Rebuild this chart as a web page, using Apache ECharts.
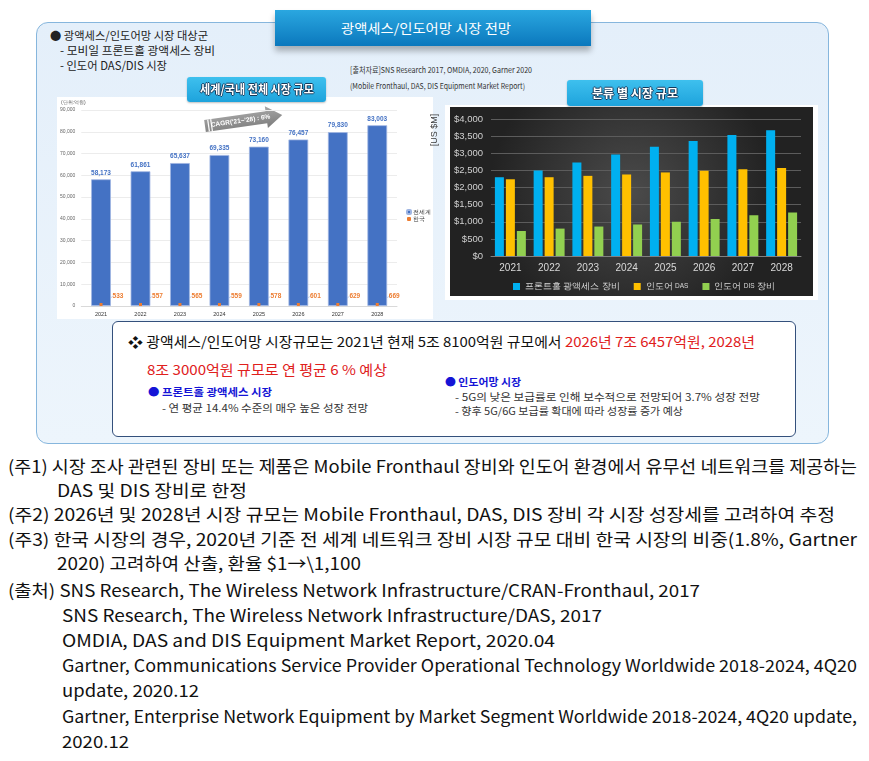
<!DOCTYPE html>
<html>
<head>
<meta charset="utf-8">
<script src="https://cdn.jsdelivr.net/npm/echarts@6/dist/echarts.min.js"></script>
<style>
	body { margin: 0; width: 869px; height: 761px; background: #fff; position: relative; overflow: hidden;
		font-family: "Noto Sans CJK KR", sans-serif; }
	.abs { position: absolute; }
	.t { position: absolute; white-space: nowrap; line-height: 1.2; transform-origin: 0 50%; }
	.fn { font-family: "Liberation Sans Narrow", "Noto Sans CJK KR", sans-serif; font-size: 17px; color: #111; }
	.red { color: #e0201c; }
	.banner { position: absolute; background: linear-gradient(#2aa7e0, #0b78bd); box-shadow: 0 5px 6px rgba(0,0,0,0.28); }
	.sub { position: absolute; background: linear-gradient(#3ec0ee, #1ea3dc); border-radius: 3px; box-shadow: 0 1px 2px rgba(0,0,0,0.25); }
	.subtxt { color: #fff; font-weight: bold; font-size: 12px;
		text-shadow: -1px 0 #163a5c, 1px 0 #163a5c, 0 -1px #163a5c, 0 1px #163a5c; }
	.bl { color: #1414d6; font-weight: bold; font-size: 10.5px; }
	.gr { color: #333; font-size: 10px; }
</style>
</head>
<body>
<!-- 바깥 박스 -->
<div class="abs" style="left:36px;top:22px;width:791px;height:420px;border:1px solid #86b6dd;border-radius:12px;background:linear-gradient(#e4effa,#edf5fc);"></div>
<div class="banner" style="left:275px;top:10px;width:316px;height:36px;"></div>
<div class="t" style="color:#fff;font-size:13px;" data-x="341" data-y="28" data-w="170">광액세스/인도어망 시장 전망</div>

<div class="t" style="font-size:11.5px;color:#222;" data-x="50" data-y="36" data-w="158">● 광액세스/인도어망 시장 대상군</div>
<div class="t" style="font-size:11.5px;color:#222;" data-x="60" data-y="51" data-w="155">- 모비일 프론트홀 광액세스 장비</div>
<div class="t" style="font-size:11.5px;color:#222;" data-x="60" data-y="66" data-w="107">- 인도어 DAS/DIS 시장</div>

<div class="t" style="font-size:8px;color:#333;" data-x="350" data-y="70" data-w="182">[출처자료]SNS Research 2017, OMDIA, 2020, Garner 2020</div>
<div class="t" style="font-size:8px;color:#333;" data-x="350" data-y="86" data-w="175">(Mobile Fronthaul, DAS, DIS Equipment Market Report)</div>

<div id="main" class="abs" style="left:57px;top:97px;width:376px;height:222px;background:#fff;"></div>
<div id="sub" class="abs" style="left:428px;top:103px;width:392px;height:199px;"></div>

<div class="sub" style="left:187px;top:77px;width:139px;height:25px;"></div>
<div class="t subtxt" data-x="200" data-y="89" data-w="114">세계/국내 전체 시장 규모</div>
<div class="sub" style="left:567px;top:80px;width:136px;height:26px;"></div>
<div class="t subtxt" data-x="592" data-y="93" data-w="86">분류 별 시장 규모</div>

<!-- 요약 박스 -->
<div class="abs" style="left:112px;top:321px;width:682px;height:114px;border:1.5px solid #34507c;border-radius:6px;background:#fff;"></div>
<div class="t" style="font-size:13.5px;color:#111;" data-x="128" data-y="341" data-w="627">❖ 광액세스/인도어망 시장규모는 2021년 현재 5조 8100억원 규모에서 <span class="red">2026년 7조 6457억원, 2028년</span></div>
<div class="t red" style="font-size:13.5px;" data-x="147" data-y="369" data-w="240">8조 3000억원 규모로 연 평균 6 % 예상</div>
<div class="t bl" data-x="148" data-y="392" data-w="124">● 프론트홀 광액세스 시장</div>
<div class="t gr" data-x="162" data-y="408" data-w="206">- 연 평균 14.4% 수준의 매우 높은 성장 전망</div>
<div class="t bl" data-x="445" data-y="382" data-w="76">● 인도어망 시장</div>
<div class="t gr" data-x="455" data-y="397" data-w="305">- 5G의 낮은 보급률로 인해 보수적으로 전망되어 3.7% 성장 전망</div>
<div class="t gr" data-x="455" data-y="411" data-w="228">- 향후 5G/6G 보급률 확대에 따라 성장률 증가 예상</div>

<!-- 주석 -->
<div class="t fn" data-x="8" data-y="466" data-w="849">(주1) 시장 조사 관련된 장비 또는 제품은 Mobile Fronthaul 장비와 인도어 환경에서 유무선 네트워크를 제공하는</div>
<div class="t fn" data-x="57" data-y="490" data-w="190">DAS 및 DIS 장비로 한정</div>
<div class="t fn" data-x="8" data-y="514" data-w="827">(주2) 2026년 및 2028년 시장 규모는 Mobile Fronthaul, DAS, DIS 장비 각 시장 성장세를 고려하여 추정</div>
<div class="t fn" data-x="8" data-y="539" data-w="849">(주3) 한국 시장의 경우, 2020년 기준 전 세계 네트워크 장비 시장 규모 대비 한국 시장의 비중(1.8%, Gartner</div>
<div class="t fn" data-x="57" data-y="563" data-w="304">2020) 고려하여 산출, 환율 $1→\1,100</div>
<div class="t fn" data-x="8" data-y="590" data-w="692">(출처) SNS Research, The Wireless Network Infrastructure/CRAN-Fronthaul, 2017</div>
<div class="t fn" data-x="62" data-y="615" data-w="540">SNS Research, The Wireless Network Infrastructure/DAS, 2017</div>
<div class="t fn" data-x="62" data-y="640" data-w="493">OMDIA, DAS and DIS Equipment Market Report, 2020.04</div>
<div class="t fn" data-x="62" data-y="665" data-w="795">Gartner, Communications Service Provider Operational Technology Worldwide 2018-2024, 4Q20</div>
<div class="t fn" data-x="62" data-y="690" data-w="137">update, 2020.12</div>
<div class="t fn" data-x="62" data-y="716" data-w="795">Gartner, Enterprise Network Equipment by Market Segment Worldwide 2018-2024, 4Q20 update,</div>
<div class="t fn" data-x="62" data-y="741" data-w="67">2020.12</div>

<script>
// 연도
var years = ['2021', '2022', '2023', '2024', '2025', '2026', '2027', '2028'];
// 세계/국내 시장 (억원)
var worldMarket = [58173, 61861, 65637, 69335, 73160, 76457, 79830, 83003];
var koreaMarket = [533, 557, 565, 559, 578, 601, 629, 669];
// 분류별 시장 (US $M)
var fronthaul = [2300, 2500, 2730, 2960, 3190, 3360, 3530, 3670];
var indoorDAS = [2240, 2300, 2340, 2380, 2440, 2490, 2530, 2570];
var indoorDIS = [730, 800, 860, 920, 1000, 1080, 1190, 1270];

// 텍스트 위치 맞추기
function placeTexts() {
	var list = document.querySelectorAll('.t');
	for (var i = 0; i < list.length; i++) {
		var el = list[i];
		el.style.left = el.getAttribute('data-x') + 'px';
		var w = el.getBoundingClientRect().width;
		var h = el.offsetHeight;
		el.style.top = (parseFloat(el.getAttribute('data-y')) - h / 2) + 'px';
		el.style.transform = 'scaleX(' + (parseFloat(el.getAttribute('data-w')) / w) + ')';
	}
}

function comma(v) {
	return String(v).replace(/\B(?=(\d{3})+(?!\d))/g, ',');
}

/**
 * 세계/국내 전체 시장 규모
 */
var myChartGC = function() {
	var myChart = echarts.init(document.getElementById('main'));
	var option = {
		animation : false,
		grid : { left : 21, right : 36, top : 13, bottom : 13 },
		legend : {
			orient : 'vertical',
			left : 344,
			top : 107,
			itemWidth : 4,
			itemHeight : 4,
			itemGap : 1,
			textStyle : { fontSize : 5.5, color : '#333', padding : [0, 0, 0, -3] },
			data : [ '전세계', '한국' ]
		},
		xAxis : [ {
			type : 'category',
			data : years,
			axisLine : { lineStyle : { color : '#d9d9d9' } },
			axisTick : { show : false },
			axisLabel : { fontSize : 5.5, color : '#333', margin : 5 }
		}, {
			type : 'category',
			data : years,
			show : false
		} ],
		yAxis : {
			type : 'value',
			min : 0,
			max : 90000,
			interval : 10000,
			axisLabel : { fontSize : 5, color : '#666', margin : 6, formatter : comma },
			splitLine : { lineStyle : { color : '#ececec' } }
		},
		graphic : [ {
			type : 'text',
			left : 4,
			top : 3,
			style : { text : '(단위:억원)', fontSize : 5, fill : '#555' }
		}, {
			type : 'group',
			x : 148,
			y : 29,
			rotation : 0.142,
			children : [ {
				type : 'polygon',
				shape : { points : [ [0, -6], [62, -6], [62, -11], [78, 0], [62, 11], [62, 6], [0, 6] ] },
				style : { fill : new echarts.graphic.LinearGradient(0, 0, 0, 1, [
					{ offset : 0, color : '#a8a8a8' }, { offset : 1, color : '#7b7b7b' } ]) }
			}, {
				type : 'rect', shape : { x : 3, y : -6, width : 1.2, height : 12 }, style : { fill : '#fff' }
			}, {
				type : 'rect', shape : { x : 6, y : -6, width : 1.2, height : 12 }, style : { fill : '#fff' }
			}, {
				type : 'text',
				x : 36,
				y : 0,
				style : { text : "CAGR('21~'28) : 6%", fontSize : 6.5, fontWeight : 'bold', fill : '#fff',
					align : 'center', verticalAlign : 'middle' }
			} ]
		} ],
		series : [ {
			name : '전세계',
			type : 'bar',
			barWidth : '50%',
			data : worldMarket,
			itemStyle : { color : '#4472c4', borderColor : '#9fb5e2', borderWidth : 0.8 },
			label : { show : true, position : 'top', distance : 3, fontSize : 6.5, fontWeight : 'bold',
				color : '#4472c4', formatter : function(p) { return comma(p.value); } }
		}, {
			name : '한국',
			type : 'bar',
			xAxisIndex : 1,
			barWidth : 3,
			barMinHeight : 3,
			data : koreaMarket,
			itemStyle : { color : '#ed7d31' },
			label : { show : true, position : 'top', fontSize : 6.5, fontWeight : 'bold', color : '#ed7d31' },
			labelLayout : { dx : 17, dy : 2 },
			labelLine : { show : true, lineStyle : { color : '#b4c7e7', type : 'dashed', width : 0.8 } }
		} ]
	};
	myChart.setOption(option);
};

/**
 * 분류 별 시장 규모
 */
var myChartSub = function() {
	var myChart = echarts.init(document.getElementById('sub'));
	var small = function(name) {
		return name.replace(/(DAS|DIS)/, '{s|$1}');
	};
	var option = {
		animation : false,
		grid : { left : 63, right : 19, top : 16, bottom : 46 },
		graphic : [ {
			type : 'rect', z : -10,
			shape : { x : 17, y : 2, width : 373, height : 195 },
			style : { fill : '#fff' }
		}, {
			type : 'rect', z : -9,
			shape : { x : 22, y : 4, width : 363, height : 189 },
			style : { fill : new echarts.graphic.RadialGradient(0.5, 0.45, 0.75, [
				{ offset : 0, color : '#4b4b4b' }, { offset : 1, color : '#222' } ]) }
		}, {
			type : 'text',
			x : 7, y : 27,
			rotation : Math.PI / 2,
			style : { text : '[US $M]', fontSize : 9, fill : '#404040', align : 'center', verticalAlign : 'middle' }
		} ],
		legend : {
			left : 80,
			top : 174,
			itemWidth : 7,
			itemHeight : 7,
			itemGap : 14,
			icon : 'rect',
			formatter : small,
			textStyle : { color : '#d9d9d9', fontSize : 8.5,
				rich : { s : { fontSize : 6.5, color : '#d9d9d9' } } },
			data : [ '프론트홀 광액세스 장비', '인도어 DAS', '인도어 DIS 장비' ]
		},
		xAxis : {
			type : 'category',
			data : years,
			axisLine : { lineStyle : { color : '#808080' } },
			axisTick : { show : false },
			axisLabel : { fontSize : 10, color : '#d9d9d9', margin : 7 }
		},
		yAxis : {
			type : 'value',
			min : 0,
			max : 4000,
			interval : 500,
			axisLabel : { fontSize : 9.5, color : '#d0d0d0', margin : 8,
				formatter : function(v) { return '$' + comma(v); } },
			splitLine : { lineStyle : { color : '#5c5c5c' } }
		},
		series : [ {
			name : '프론트홀 광액세스 장비',
			type : 'bar',
			barWidth : 9,
			barGap : '22%',
			data : fronthaul,
			itemStyle : { color : '#00b0f0' }
		}, {
			name : '인도어 DAS',
			type : 'bar',
			barWidth : 9,
			barGap : '22%',
			data : indoorDAS,
			itemStyle : { color : '#ffc000' }
		}, {
			name : '인도어 DIS 장비',
			type : 'bar',
			barWidth : 9,
			barGap : '22%',
			data : indoorDIS,
			itemStyle : { color : '#92d050' }
		} ]
	};
	myChart.setOption(option);
};

placeTexts();
myChartGC();
myChartSub();
</script>
</body>
</html>
